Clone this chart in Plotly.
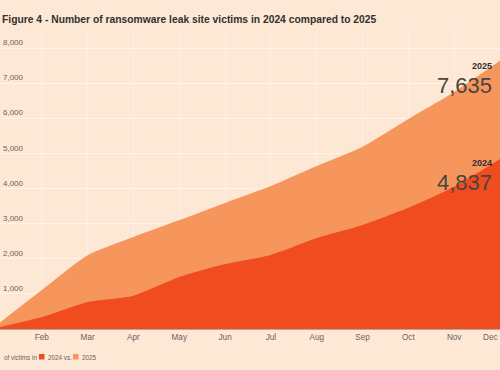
import plotly.graph_objects as go

# ---- data ----
months = ["Jan", "Feb", "Mar", "Apr", "May", "Jun", "Jul", "Aug", "Sep", "Oct", "Nov", "Dec"]
victims_2024 = [30, 340, 770, 950, 1480, 1850, 2110, 2590, 2960, 3450, 4050, 4837]
victims_2025 = [100, 1110, 2100, 2620, 3100, 3590, 4070, 4640, 5190, 5980, 6750, 7635]
y_ticks = [1000, 2000, 3000, 4000, 5000, 6000, 7000, 8000]
series_names = ["2024", "2025"]
title_text = "Figure 4 - Number of ransomware leak site victims in 2024 compared to 2025"
legend_prefix = "of victims in"

# ---- style ----
BG = "#fde8d6"
DARK = "#f04c20"
LIGHT = "#f7965c"
TEXT = "#33302e"
MUTED = "#6b625b"
FONT = "Liberation Sans, Arial, sans-serif"

W, H = 500, 370
ML, MR, MT, MB = 0, 0, 30, 41
PW, PH = W - ML - MR, H - MT - MB


def px(x):
    return (x - ML) / PW


def py(y):
    return (H - MB - y) / PH


fig = go.Figure()
fig.add_trace(go.Scatter(
    x=months, y=victims_2025, mode="lines", fill="tozeroy",
    line=dict(width=0, color=LIGHT, shape="spline", smoothing=0.6),
    fillcolor=LIGHT, name=series_names[1], showlegend=False,
    hovertemplate="%{x}: %{y:,}<extra>2025</extra>"))
fig.add_trace(go.Scatter(
    x=months, y=victims_2024, mode="lines", fill="tozeroy",
    line=dict(width=0, color=DARK, shape="spline", smoothing=0.6),
    fillcolor=DARK, name=series_names[0], showlegend=False,
    hovertemplate="%{x}: %{y:,}<extra>2024</extra>"))

annotations = [
    dict(text="<b>" + title_text + "</b>", x=px(0), y=py(19), xref="paper", yref="paper",
         xanchor="left", yanchor="middle", showarrow=False,
         font=dict(family=FONT, size=10.3, color=TEXT)),
    # end labels
    dict(text="<b>" + series_names[1] + "</b>", x=px(494), y=py(66), xref="paper", yref="paper",
         xanchor="right", yanchor="middle", showarrow=False,
         font=dict(family=FONT, size=9, color=TEXT)),
    dict(text=f"{victims_2025[-1]:,}", x=px(494), y=py(85), xref="paper", yref="paper",
         xanchor="right", yanchor="middle", showarrow=False,
         font=dict(family=FONT, size=22, color="#4a4441")),
    dict(text="<b>" + series_names[0] + "</b>", x=px(494), y=py(163), xref="paper", yref="paper",
         xanchor="right", yanchor="middle", showarrow=False,
         font=dict(family=FONT, size=9, color=TEXT)),
    dict(text=f"{victims_2024[-1]:,}", x=px(494), y=py(182), xref="paper", yref="paper",
         xanchor="right", yanchor="middle", showarrow=False,
         font=dict(family=FONT, size=22, color="#4a4441")),
    # last month label, kept inside the page
    dict(text=months[-1], x=px(500), y=py(337), xref="paper", yref="paper",
         xanchor="right", yanchor="middle", showarrow=False,
         font=dict(family=FONT, size=8.2, color=MUTED)),
    # legend
    dict(text=legend_prefix, x=px(2), y=py(357), xref="paper", yref="paper",
         xanchor="left", yanchor="middle", showarrow=False,
         font=dict(family=FONT, size=6.3, color=MUTED)),
    dict(text=series_names[0] + " vs.", x=px(45.5), y=py(357), xref="paper", yref="paper",
         xanchor="left", yanchor="middle", showarrow=False,
         font=dict(family=FONT, size=6.3, color=MUTED)),
    dict(text=series_names[1], x=px(79.5), y=py(357), xref="paper", yref="paper",
         xanchor="left", yanchor="middle", showarrow=False,
         font=dict(family=FONT, size=6.3, color=MUTED)),
]

shapes = [
    dict(type="rect", xref="paper", yref="paper", x0=px(39), x1=px(44.5), y0=py(359.5), y1=py(354),
         fillcolor=DARK, line=dict(width=0)),
    dict(type="rect", xref="paper", yref="paper", x0=px(73), x1=px(78.5), y0=py(359.5), y1=py(354),
         fillcolor=LIGHT, line=dict(width=0)),
]

y_top = 8000 + (48 - MT) * (8000 / (H - MB - 48))

fig.update_layout(
    width=W, height=H,
    margin=dict(l=ML, r=MR, t=MT, b=MB, pad=0),
    paper_bgcolor=BG, plot_bgcolor=BG,
    font=dict(family=FONT, color=MUTED),
    annotations=annotations, shapes=shapes,
    showlegend=False,
    xaxis=dict(
        range=[0.087, 11], showgrid=True, gridcolor="#fdefe3", gridwidth=1,
        showline=True, linecolor="#b3a79d", linewidth=1,
        tickmode="array", tickvals=months[:-1], ticktext=months[:-1],
        ticks="", tickfont=dict(family=FONT, size=8.2, color=MUTED),
        fixedrange=True, zeroline=False,
    ),
    yaxis=dict(
        range=[0, y_top], tickmode="array", tickvals=y_ticks,
        ticktext=[f"{v:,}" for v in y_ticks],
        ticklabelposition="inside top", showgrid=True, gridcolor="#fff3ea", gridwidth=1,
        zeroline=False, showline=False, ticks="",
        tickfont=dict(family=FONT, size=8, color=MUTED), fixedrange=True,
    ),
)

fig.write_html(
    "out.html",
    config={"displayModeBar": False},
    post_script="document.body.style.margin='0';document.body.style.background='" + BG + "';",
)
